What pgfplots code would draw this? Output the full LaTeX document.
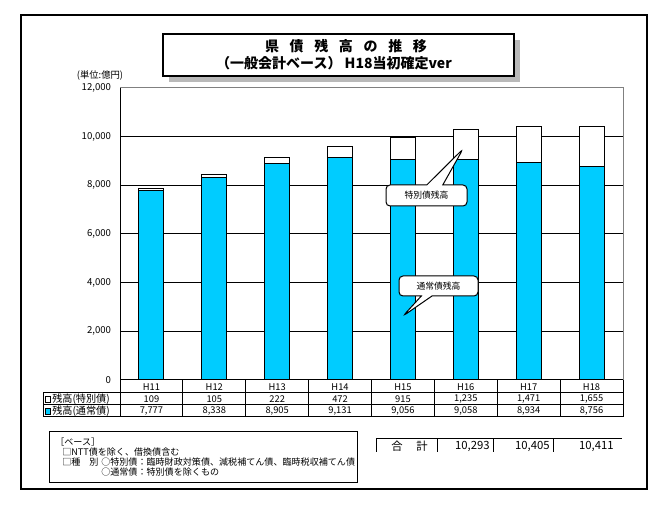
\documentclass[border=0pt]{standalone}
\usepackage{fontspec}
\setmainfont{Noto Sans CJK JP}
\usepackage{pgfplots}
\pgfplotsset{compat=1.18}
\usetikzlibrary{shapes.callouts}
\definecolor{barblue}{HTML}{00CCFF}
\pgfkeys{/pgf/number format/.cd, assume math mode=true, 1000 sep={,}}
\newcommand{\tf}{\fontsize{7}{8}\selectfont}
\newcommand{\nf}{\fontsize{6.8}{8}\selectfont}
\newcommand{\gap}{\hspace{8pt}}
\begin{document}
\begin{tikzpicture}
\begin{scope}[x=0.75pt,y=-0.75pt]
\useasboundingbox (0,0) rectangle (668,509);
\draw[line width=1.1pt] (21,15) rectangle (647,489);
\fill[gray!55] (169,40) rectangle (520,82);
\draw[line width=1.3pt, fill=white] (163,34) rectangle (514,76);
\node[font=\bfseries\fontsize{10.5}{12}\selectfont] at (346,46) {県\gap 債\gap 残\gap 高\gap の\gap 推\gap 移};
\node[font=\bfseries\fontsize{10.5}{12}\selectfont] at (334,63) {（一般会計ベース） H18当初確定ver};
\node[font=\tf] at (100,75) {(単位:億円)};
\end{scope}

\begin{axis}[
  at={(90pt,-285pt)}, anchor=south west,
  width=377.25pt, height=219pt, scale only axis,
  xmin=-0.5, xmax=7.5, ymin=0, ymax=12000, enlargelimits=false,
  ytick={0,2000,...,12000}, xtick={0,...,7},
  xticklabels={H11,H12,H13,H14,H15,H16,H17,H18},
  ybar stacked, bar width=18.75pt,
  ymajorgrids, grid style={black, line width=0.75pt},
  axis x line*=bottom, axis y line*=left,
  axis line style={black, line width=0.75pt},
  tick style={draw=none},
  scaled y ticks=false,
  /pgf/number format/assume math mode=true,
  /pgf/number format/1000 sep={,},
  yticklabel style={font=\fontsize{7.2}{8}\selectfont, anchor=east, xshift=-3.2pt},
  xticklabel style={font=\tf, anchor=center, yshift=-5.25pt},
  clip=false,
]
\draw[gray, line width=0.75pt] (rel axis cs:0,1) -- (rel axis cs:1,1) -- (rel axis cs:1,0);
\addplot[fill=barblue, draw=black, line width=0.75pt] coordinates {
  (0,7777) (1,8338) (2,8905) (3,9131) (4,9056) (5,9058) (6,8934) (7,8756)};
\addplot[fill=white, draw=black, line width=0.75pt] coordinates {
  (0,109) (1,105) (2,222) (3,472) (4,915) (5,1235) (6,1471) (7,1655)};
\end{axis}

\begin{scope}[x=0.75pt,y=-0.75pt]
% table grid
\foreach \k in {0,...,8} \draw[line width=0.75pt] ({120+62.875*\k},380) -- ({120+62.875*\k},417);
\draw[line width=0.75pt] (43,393) -- (43,417);
\foreach \yy in {393,405,417} \draw[line width=0.75pt] (43,\yy) -- (623,\yy);
\draw[line width=0.6pt, fill=white] (45,396.5) rectangle (50.5,402);
\draw[line width=0.6pt, fill=barblue] (45,408.5) rectangle (50.5,414);
\node[font=\fontsize{7.6}{8}\selectfont, anchor=west, inner sep=0pt] at (52,399.5) {残高(特別債)};
\node[font=\fontsize{7.6}{8}\selectfont, anchor=west, inner sep=0pt] at (52,411.5) {残高(通常債)};
\foreach \v [count=\i from 0] in {109,105,222,472,915,1235,1471,1655}
  \node[font=\tf, inner sep=0pt] at ({151.4375+62.875*\i},399.5) {\pgfmathprintnumber{\v}};
\foreach \v [count=\i from 0] in {7777,8338,8905,9131,9056,9058,8934,8756}
  \node[font=\tf, inner sep=0pt] at ({151.4375+62.875*\i},411.5) {\pgfmathprintnumber{\v}};
% callouts
\node[rectangle callout, draw, fill=white, line width=0.75pt, rounded corners=3pt,
  minimum width=60.75pt, minimum height=15.75pt, inner sep=0pt,
  callout absolute pointer={(463,149)}, callout pointer width=12pt,
  font=\fontsize{6.6}{7}\selectfont] at (426.5,195.5) {特別債残高};
\node[rectangle callout, draw, fill=white, line width=0.75pt, rounded corners=3pt,
  minimum width=59.25pt, minimum height=15pt, inner sep=0pt,
  callout absolute pointer={(403,316)}, callout pointer width=8pt,
  font=\fontsize{6.6}{7}\selectfont] at (438.5,286) {通常債残高};
% notes box
\draw[line width=0.75pt] (49,432) rectangle (357,483);
\node[font=\nf, anchor=west, inner sep=0pt] at (55,442.5) {［ベース］};
\node[font=\nf, anchor=west, inner sep=0pt] at (62,452) {□NTT債を除く、借換債含む};
\node[font=\nf, anchor=west, inner sep=0pt] at (62,462) {□種　別};
\node[font=\nf, anchor=west, inner sep=0pt] at (101,462) {○特別債：臨時財政対策債、減税補てん債、臨時税収補てん債};
\node[font=\nf, anchor=west, inner sep=0pt] at (101,472) {○通常債：特別債を除くもの};
% totals
\draw[line width=0.75pt] (376,439) -- (622,439);
\foreach \xx in {376,437,493,553} \draw[line width=0.75pt] (\xx,439) -- (\xx,452);
\node[font=\fontsize{8.5}{10}\selectfont] at (397,446) {合};
\node[font=\fontsize{8.5}{10}\selectfont] at (422,446) {計};
\node[font=\fontsize{8.5}{10}\selectfont, anchor=east, inner sep=0pt] at (490,446) {10,293};
\node[font=\fontsize{8.5}{10}\selectfont, anchor=east, inner sep=0pt] at (550,446) {10,405};
\node[font=\fontsize{8.5}{10}\selectfont, anchor=east, inner sep=0pt] at (614,446) {10,411};
\end{scope}
\end{tikzpicture}
\end{document}
